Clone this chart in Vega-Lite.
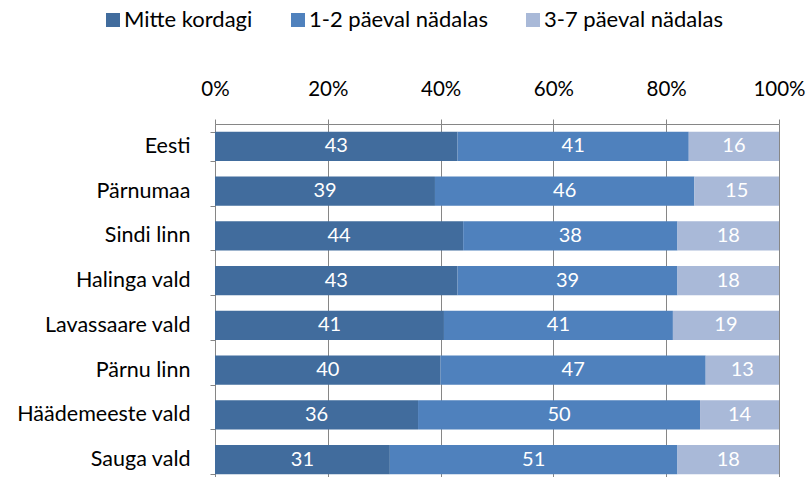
{
  "$schema": "https://vega.github.io/schema/vega-lite/v6.json",
  "width": 564,
  "height": 358,
  "autosize": {"type": "none"},
  "padding": {"left": 215, "top": 124, "right": 28, "bottom": 0},
  "background": "white",
  "config": {
    "view": {"stroke": null},
    "font": "Lato",
    "text": {"font": "Lato"}
  },
  "data": {
    "values": [
      {"ala": "Eesti", "kategooria": "Mitte kordagi", "k": 1, "v": 43},
      {"ala": "Eesti", "kategooria": "1-2 päeval nädalas", "k": 2, "v": 41},
      {"ala": "Eesti", "kategooria": "3-7 päeval nädalas", "k": 3, "v": 16},
      {"ala": "Pärnumaa", "kategooria": "Mitte kordagi", "k": 1, "v": 39},
      {"ala": "Pärnumaa", "kategooria": "1-2 päeval nädalas", "k": 2, "v": 46},
      {"ala": "Pärnumaa", "kategooria": "3-7 päeval nädalas", "k": 3, "v": 15},
      {"ala": "Sindi linn", "kategooria": "Mitte kordagi", "k": 1, "v": 44},
      {"ala": "Sindi linn", "kategooria": "1-2 päeval nädalas", "k": 2, "v": 38},
      {"ala": "Sindi linn", "kategooria": "3-7 päeval nädalas", "k": 3, "v": 18},
      {"ala": "Halinga vald", "kategooria": "Mitte kordagi", "k": 1, "v": 43},
      {"ala": "Halinga vald", "kategooria": "1-2 päeval nädalas", "k": 2, "v": 39},
      {"ala": "Halinga vald", "kategooria": "3-7 päeval nädalas", "k": 3, "v": 18},
      {"ala": "Lavassaare vald", "kategooria": "Mitte kordagi", "k": 1, "v": 41},
      {"ala": "Lavassaare vald", "kategooria": "1-2 päeval nädalas", "k": 2, "v": 41},
      {"ala": "Lavassaare vald", "kategooria": "3-7 päeval nädalas", "k": 3, "v": 19},
      {"ala": "Pärnu linn", "kategooria": "Mitte kordagi", "k": 1, "v": 40},
      {"ala": "Pärnu linn", "kategooria": "1-2 päeval nädalas", "k": 2, "v": 47},
      {"ala": "Pärnu linn", "kategooria": "3-7 päeval nädalas", "k": 3, "v": 13},
      {"ala": "Häädemeeste vald", "kategooria": "Mitte kordagi", "k": 1, "v": 36},
      {"ala": "Häädemeeste vald", "kategooria": "1-2 päeval nädalas", "k": 2, "v": 50},
      {"ala": "Häädemeeste vald", "kategooria": "3-7 päeval nädalas", "k": 3, "v": 14},
      {"ala": "Sauga vald", "kategooria": "Mitte kordagi", "k": 1, "v": 31},
      {"ala": "Sauga vald", "kategooria": "1-2 päeval nädalas", "k": 2, "v": 51},
      {"ala": "Sauga vald", "kategooria": "3-7 päeval nädalas", "k": 3, "v": 18}
    ]
  },
  "encoding": {
    "y": {
      "field": "ala",
      "type": "nominal",
      "sort": null,
      "scale": {"paddingInner": 0.35, "paddingOuter": 0.175},
      "axis": {
        "title": null,
        "orient": "left",
        "tickBand": "extent",
        "tickSize": 5,
        "tickColor": "#868686",
        "domainColor": "#868686",
        "labelFont": "Lato",
        "labelFontSize": 21.5,
        "labelColor": "#000000",
        "labelPadding": 20,
        "labelLimit": 300
      }
    },
    "x": {
      "field": "v",
      "type": "quantitative",
      "stack": "normalize",
      "scale": {"domain": [0, 1], "nice": false},
      "axis": {
        "title": null,
        "orient": "top",
        "values": [0, 0.2, 0.4, 0.6, 0.8, 1],
        "format": ".0%",
        "grid": true,
        "gridColor": "#868686",
        "tickColor": "#868686",
        "domainColor": "#868686",
        "tickSize": 5,
        "labelFont": "Lato",
        "labelFontSize": 20.5,
        "labelColor": "#000000",
        "labelPadding": 20,
        "labelFlush": false,
        "labelOverlap": false
      }
    },
    "order": {"field": "k", "type": "quantitative"}
  },
  "layer": [
    {
      "mark": {"type": "bar"},
      "encoding": {
        "color": {
          "field": "kategooria",
          "type": "nominal",
          "scale": {
            "domain": ["Mitte kordagi", "1-2 päeval nädalas", "3-7 päeval nädalas"],
            "range": ["#416C9D", "#4F81BD", "#A9B9D8"]
          },
          "legend": {
            "title": null,
            "orient": "none",
            "direction": "horizontal",
            "legendX": -113,
            "legendY": -115,
            "symbolType": "square",
            "symbolSize": 196,
            "symbolStrokeWidth": 0,
            "labelFont": "Lato",
            "labelFontSize": 22,
            "labelColor": "#000000",
            "labelOffset": 0,
            "columnPadding": 34,
            "labelLimit": 300
          }
        }
      }
    },
    {
      "mark": {"type": "text", "color": "white", "font": "Lato", "fontSize": 20, "baseline": "middle", "align": "center"},
      "encoding": {
        "x": {"field": "v", "type": "quantitative", "stack": "normalize", "bandPosition": 0.5},
        "text": {"field": "v", "type": "quantitative"}
      }
    }
  ]
}
